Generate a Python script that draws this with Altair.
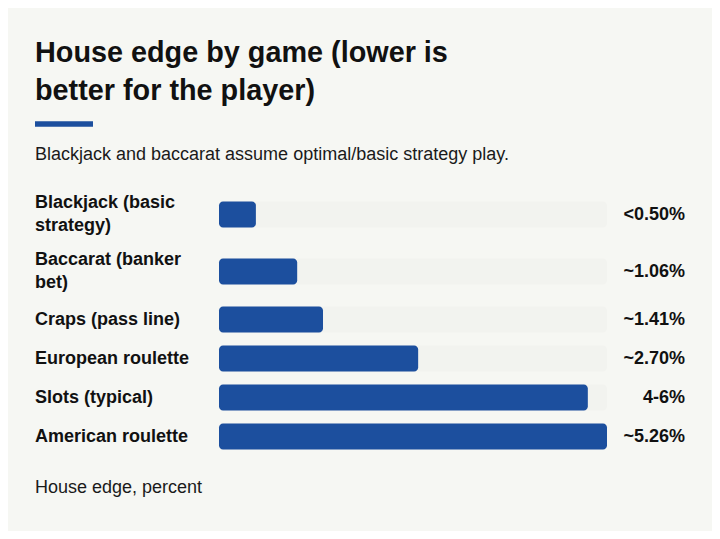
import altair as alt
import pandas as pd

# data
games = [
    "Blackjack (basic\nstrategy)",
    "Baccarat (banker\nbet)",
    "Craps (pass line)",
    "European roulette",
    "Slots (typical)",
    "American roulette",
]
house_edge = [0.50, 1.06, 1.41, 2.70, 5.00, 5.26]
edge_labels = ["<0.50%", "~1.06%", "~1.41%", "~2.70%", "4-6%", "~5.26%"]

title_lines = ["House edge by game (lower is", "better for the player)"]
subtitle = "Blackjack and baccarat assume optimal/basic strategy play."
footer = "House edge, percent"

BLUE = "#1c4f9e"
BG = "#f6f7f3"
TRACK = "#f2f3ef"
FONT = "Liberation Sans"
LINE_H = 23

# row layout: one-line rows are 39px tall, each extra label line adds 18px
n_lines = [g.count("\n") + 1 for g in games]
row_heights = [39 + 18 * (n - 1) for n in n_lines]
tops = [sum(row_heights[:i]) for i in range(len(games))]
centers = [t + h / 2 for t, h in zip(tops, row_heights)]
total_h = sum(row_heights)

df = pd.DataFrame({
    "game": games,
    "edge": house_edge,
    "label": edge_labels,
    "center": centers,
    # first line of a wrapped label sits above the row centre
    "name_y": [c - (n - 1) * LINE_H / 2 for c, n in zip(centers, n_lines)],
})

y_scale = alt.Scale(domain=[0, total_h], range=[0, total_h])
x_scale = alt.Scale(domain=[0, max(house_edge)], range=[184, 572], nice=False, zero=True)

base = alt.Chart(df).transform_calculate(
    b_top="datum.center - 13", b_bot="datum.center + 13"
)

track = base.mark_bar(color=TRACK, cornerRadius=4).encode(
    x=alt.X("zero:Q", scale=x_scale, axis=None),
    x2=alt.datum(max(house_edge)),
    y=alt.Y("b_top:Q", scale=y_scale, axis=None),
    y2="b_bot:Q",
).transform_calculate(zero="0")

bars = base.mark_bar(color=BLUE, cornerRadius=4).encode(
    x=alt.X("edge:Q", scale=x_scale, axis=None),
    x2=alt.datum(0),
    y=alt.Y("b_top:Q", scale=y_scale, axis=None),
    y2="b_bot:Q",
    tooltip=[alt.Tooltip("label:N", title="House edge")],
)

names = alt.Chart(df).mark_text(
    align="left", baseline="middle", lineBreak="\n", lineHeight=LINE_H,
    font=FONT, fontSize=18, fontWeight="bold", color="#111111",
).encode(
    x=alt.value(0),
    y=alt.Y("name_y:Q", scale=y_scale, axis=None),
    text="game:N",
)

values = alt.Chart(df).mark_text(
    align="right", baseline="middle",
    font=FONT, fontSize=18, fontWeight="bold", color="#111111",
).encode(
    x=alt.value(650),
    y=alt.Y("center:Q", scale=y_scale, axis=None),
    text="label:N",
)

head = pd.DataFrame({"t": ["\n".join(title_lines)]})
title = alt.Chart(head).mark_text(
    align="left", baseline="alphabetic", lineBreak="\n", lineHeight=37.5,
    font=FONT, fontSize=28.8, fontWeight="bold", color="#111111",
).encode(x=alt.value(0), y=alt.value(-124), text="t:N")

accent = alt.Chart(head).mark_rule(color=BLUE, strokeWidth=5.5).encode(
    x=alt.value(0), x2=alt.value(58), y=alt.value(-62)
)

sub = alt.Chart(pd.DataFrame({"t": [subtitle]})).mark_text(
    align="left", baseline="alphabetic", font=FONT, fontSize=18, color="#1a1a1a",
).encode(x=alt.value(0), y=alt.value(-26.5), text="t:N")

foot = alt.Chart(pd.DataFrame({"t": [footer]})).mark_text(
    align="left", baseline="alphabetic", font=FONT, fontSize=18, color="#1a1a1a",
).encode(x=alt.value(0), y=alt.value(307), text="t:N")

chart = alt.layer(track, bars, names, values, title, accent, sub, foot).properties(
    width=650,
    height=total_h,
    background=BG,
    padding={"left": 27, "top": 178, "right": 27, "bottom": 75},
    autosize=alt.AutoSizeParams(type="none"),
).configure_view(stroke=None)

chart.save("out.html", embed_options={"renderer": "svg", "actions": False})
